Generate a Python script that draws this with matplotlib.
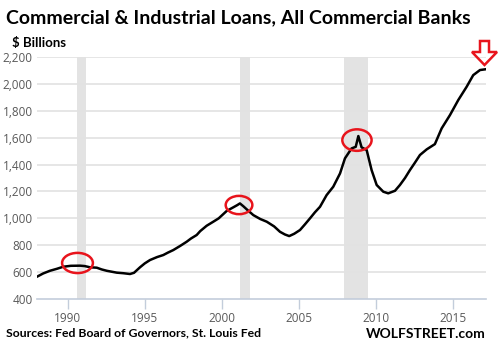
import matplotlib
matplotlib.use("Agg")
import matplotlib.pyplot as plt
from matplotlib.patches import Ellipse, Polygon

# C&I loans, all commercial banks ($ billions)
years = [1988.0, 1988.4, 1988.84, 1989.3, 1989.7, 1990.2, 1990.8, 1991.1, 1991.44, 1991.88,
         1992.2, 1992.53, 1993.18, 1993.6, 1994.04, 1994.3, 1994.69, 1995.0, 1995.34, 1995.8,
         1996.2, 1996.5, 1996.85, 1997.3, 1997.72, 1998.0, 1998.37, 1998.6, 1999.02, 1999.45,
         1999.8, 2000.32, 2000.75, 2001.0, 2001.18, 2001.4, 2001.62, 2002.05, 2002.5, 2002.92,
         2003.4, 2003.78, 2004.1, 2004.38, 2004.7, 2005.08, 2005.4, 2005.73, 2006.05, 2006.38,
         2006.81, 2007.24, 2007.68, 2008.0, 2008.43, 2008.7, 2008.87, 2009.08, 2009.41, 2009.73,
         2010.06, 2010.49, 2010.81, 2011.25, 2011.57, 2011.9, 2012.22, 2012.55, 2012.87, 2013.31,
         2013.84, 2014.28, 2014.82, 2015.36, 2015.9, 2016.33, 2016.77, 2017.09]
loans = [566, 590, 610, 625, 640, 647, 648, 645, 636, 633,
         620, 610, 596, 592, 586, 595, 636, 665, 690, 712,
         727, 745, 764, 795, 826, 850, 876, 905, 945, 975,
         1000, 1055, 1082, 1098, 1111, 1090, 1067, 1024, 995, 975,
         940, 900, 880, 868, 885, 913, 955, 1000, 1045, 1086,
         1173, 1235, 1334, 1446, 1520, 1532, 1612, 1528, 1508, 1359,
         1248, 1198, 1186, 1205, 1248, 1300, 1359, 1415, 1471, 1513,
         1552, 1669, 1768, 1880, 1978, 2065, 2103, 2108]

# recessions (start, end)
recessions = [(1990.58, 1991.2), (2001.2, 2001.85), (2007.95, 2009.5)]

# circled peaks: (year, value, width in years, height in $bn)
circles = [(1990.63, 668, 2.0, 150), (2001.12, 1099, 1.73, 136), (2008.78, 1582, 1.9, 160)]

yticks = [400, 600, 800, 1000, 1200, 1400, 1600, 1800, 2000, 2200]
xticks = [1990, 1995, 2000, 2005, 2010, 2015]

fig = plt.figure(figsize=(5, 3.6), dpi=100)
ax = fig.add_axes([0.074, 0.1694, 0.898, 0.6723])

for s, e in recessions:
    ax.axvspan(s, e, color="#e3e3e3", lw=0, zorder=0)

for v in yticks[1:]:
    ax.axhline(v, color="#e2e2e2", lw=1.2, zorder=1)

ax.plot(years, loans, color="black", lw=1.8, zorder=3)

for cx, cy, w, h in circles:
    ax.add_patch(Ellipse((cx, cy), w, h, fill=False, ec="#e8141c", lw=1.8, zorder=4))

ax.set_xlim(1988.0, 2017.16)
ax.set_ylim(400, 2200)
ax.set_xticks(xticks)
ax.set_yticks(yticks)
ax.set_yticklabels([f"{v:,}" for v in yticks])
for sp in ["top", "right", "left"]:
    ax.spines[sp].set_visible(False)
ax.spines["bottom"].set_color("#c3cddb")
ax.spines["bottom"].set_linewidth(1.2)
ax.tick_params(axis="x", length=7, width=1, color="#c3cddb", labelsize=8.5,
               labelcolor="#595959", pad=2)
ax.tick_params(axis="y", length=0, labelsize=8.5, labelcolor="#595959", pad=3)
for lab in ax.get_xticklabels() + ax.get_yticklabels():
    lab.set_family("Open Sans")

# red down arrow at the latest value (figure pixels)
arrow = [(480, 41), (489, 41), (489, 52), (497, 52), (484.5, 65), (472, 52), (480, 52)]
fig.patches.append(Polygon([(x / 500, 1 - y / 360) for x, y in arrow], closed=True,
                           fill=False, ec="#e8141c", lw=1.8, transform=fig.transFigure))

fig.text(0.012, 0.952, "Commercial & Industrial Loans, All Commercial Banks",
         fontsize=14, fontweight="bold", family="Lato", va="center", ha="left")
fig.text(0.024, 0.88, "$ Billions", fontsize=9.5, fontweight="bold", family="Lato",
         va="center", ha="left")
fig.text(0.012, 0.075, "Sources: Fed Board of Governors, St. Louis Fed",
         fontsize=8.8, fontweight="bold", family="Lato", va="center", ha="left")
fig.text(0.972, 0.072, "WOLFSTREET.com", fontsize=10, fontweight="bold",
         family="Lato", va="center", ha="right")

fig.savefig("out.png", dpi=100, facecolor="white")
